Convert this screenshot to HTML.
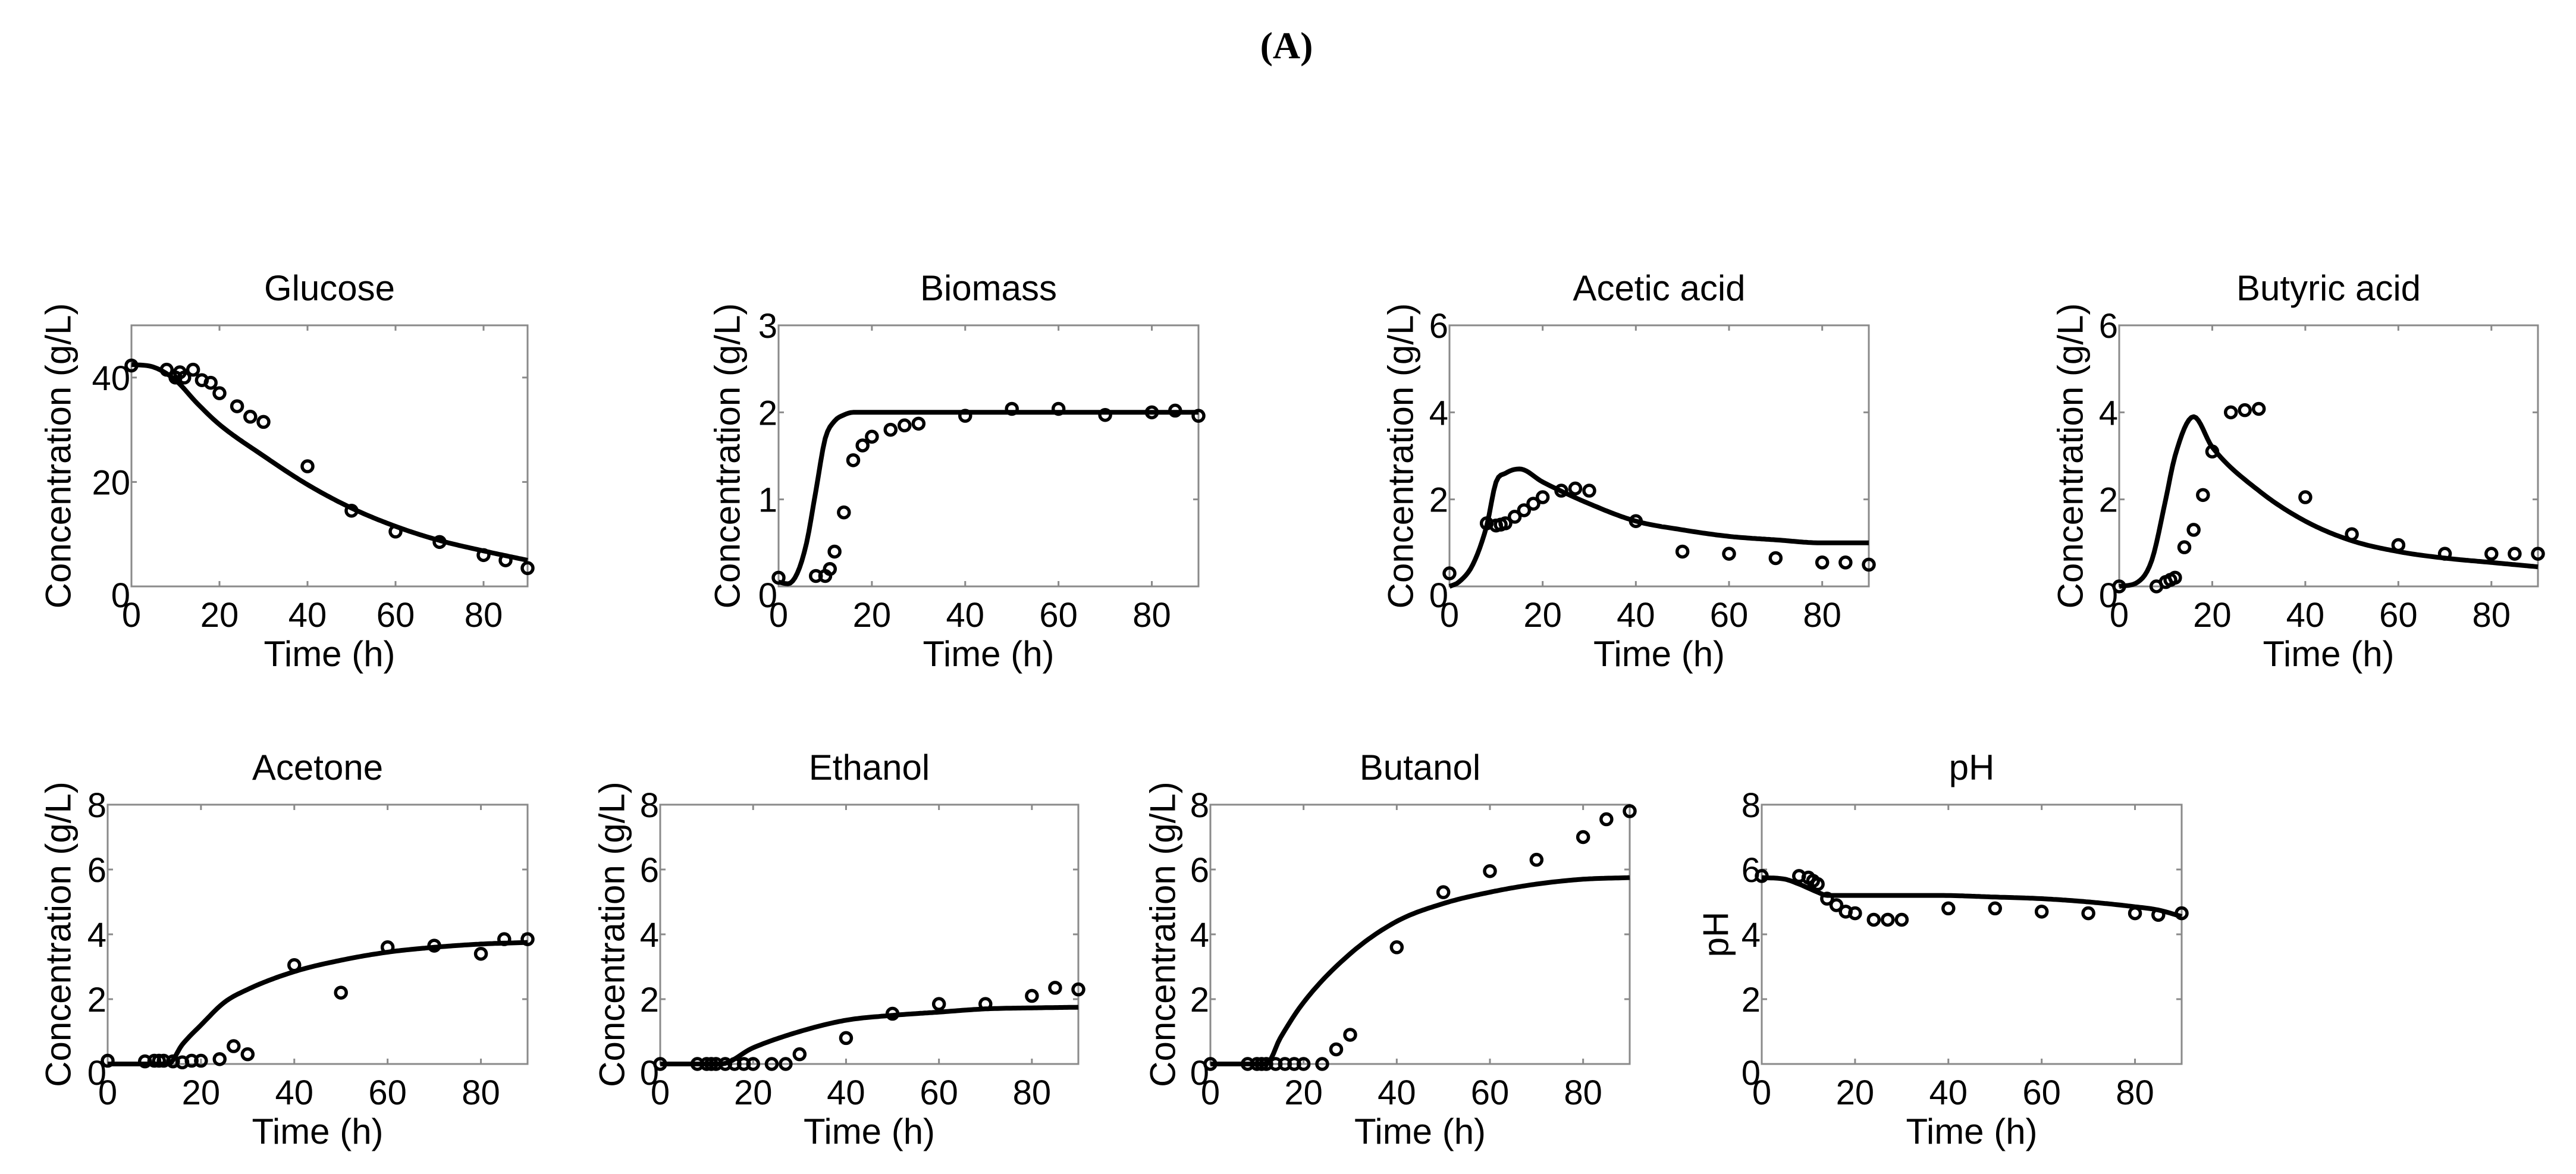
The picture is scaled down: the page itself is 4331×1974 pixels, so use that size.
<!DOCTYPE html>
<html><head><meta charset="utf-8">
<style>
html,body{margin:0;padding:0;background:#fff;}
svg{display:block;}
text{font-family:"Liberation Sans",sans-serif;fill:#000;}
</style></head>
<body>
<svg id="fig" width="4331" height="1974" viewBox="0 0 4331 1974" xmlns="http://www.w3.org/2000/svg">
<rect width="4331" height="1974" fill="#fff"/>
<text x="2163" y="98" text-anchor="middle" style="font-family:'Liberation Serif',serif;font-weight:bold;font-size:64px">(A)</text>
</svg>
<script>
const timesPts = [0,8,10,11,12,14,16,18,20,24,27,30,40,50,60,70,80,85,90];
const xTicks = [0,20,40,60,80];
const glucosePts = [42.3,41.5,40,41,40,41.5,39.5,39,37,34.5,32.5,31.5,23,14.5,10.5,8.5,6,5,3.5];
const glucoseCurveT = [0,5,10,15,20,30,40,50,60,70,80,90];
const glucoseCurveV = [42.5,42,39.5,35,31,25,19.5,15,11.5,8.8,6.8,5];
const biomassPts = [0.1,0.12,0.12,0.2,0.4,0.85,1.45,1.62,1.72,1.8,1.85,1.87,1.96,2.04,2.04,1.97,2.0,2.02,1.96];
const biomassCurveT = [0,2,4,6,8,10,12,14,16,90];
const biomassCurveV = [0.05,0.03,0.15,0.5,1.1,1.7,1.9,1.97,2,2];
const aceticPts = [0.3,1.45,1.4,1.42,1.45,1.6,1.75,1.9,2.05,2.2,2.25,2.2,1.5,0.8,0.75,0.65,0.55,0.55,0.5];
const aceticCurveT = [0,2,5,8,10,12,15,20,30,40,50,60,70,80,90];
const aceticCurveV = [0,0.1,0.5,1.4,2.4,2.6,2.7,2.4,1.9,1.5,1.3,1.15,1.07,1.0,1.0];
const butyricPts = [0,0,0.1,0.15,0.2,0.9,1.3,2.1,3.1,4.0,4.05,4.08,2.05,1.2,0.95,0.75,0.75,0.75,0.75];
const butyricCurveT = [0,4,7,10,12,16,20,30,40,50,60,70,80,90];
const butyricCurveV = [0,0.1,0.6,2.0,3.0,3.9,3.2,2.2,1.5,1.05,0.8,0.65,0.55,0.45];
const acetonePts = [0.1,0.08,0.1,0.1,0.1,0.08,0.05,0.1,0.1,0.15,0.55,0.3,3.05,2.2,3.6,3.65,3.4,3.85,3.85];
const acetoneCurveT = [0,13,16,20,25,30,40,50,60,70,80,90];
const acetoneCurveV = [0,0,0.6,1.2,1.9,2.3,2.85,3.2,3.45,3.6,3.7,3.75];
const ethanolPts = [0,0,0,0,0,0,0,0,0,0,0,0.3,0.8,1.55,1.85,1.85,2.1,2.35,2.3];
const ethanolCurveT = [0,13,20,30,40,50,60,70,80,90];
const ethanolCurveV = [0,0,0.5,1.0,1.35,1.5,1.6,1.7,1.73,1.75];
const butanolPts = [0,0,0,0,0,0,0,0,0,0,0.45,0.9,3.6,5.3,5.95,6.3,7.0,7.55,7.8];
const butanolCurveT = [0,12,15,20,30,40,50,60,70,80,90];
const butanolCurveV = [0,0,0.8,1.9,3.4,4.4,4.95,5.3,5.55,5.7,5.75];
const phPts = [5.8,5.8,5.75,5.65,5.55,5.1,4.9,4.7,4.65,4.45,4.45,4.45,4.8,4.8,4.7,4.65,4.65,4.6,4.65];
const phCurveT = [0,5,8,12,14,38,50,60,70,80,85,90];
const phCurveV = [5.75,5.7,5.55,5.3,5.2,5.2,5.15,5.1,5.0,4.85,4.75,4.55];

const panels = [
 {id:'glucose',title:'Glucose',l:221,r:887,t:547,b:986,ymax:50,yt:[0,20,40],ylab:'Concentration (g/L)',ylx:98,pts:glucosePts,ct:glucoseCurveT,cv:glucoseCurveV},
 {id:'biomass',title:'Biomass',l:1309,r:2015,t:547,b:986,ymax:3,yt:[0,1,2,3],ylab:'Concentration (g/L)',ylx:1223,pts:biomassPts,ct:biomassCurveT,cv:biomassCurveV},
 {id:'acetic-acid',title:'Acetic acid',l:2437,r:3142,t:547,b:986,ymax:6,yt:[0,2,4,6],ylab:'Concentration (g/L)',ylx:2355,pts:aceticPts,ct:aceticCurveT,cv:aceticCurveV},
 {id:'butyric-acid',title:'Butyric acid',l:3563,r:4267,t:547,b:986,ymax:6,yt:[0,2,4,6],ylab:'Concentration (g/L)',ylx:3481,pts:butyricPts,ct:butyricCurveT,cv:butyricCurveV},
 {id:'acetone',title:'Acetone',l:181,r:887,t:1353,b:1789,ymax:8,yt:[0,2,4,6,8],ylab:'Concentration (g/L)',ylx:98,pts:acetonePts,ct:acetoneCurveT,cv:acetoneCurveV},
 {id:'ethanol',title:'Ethanol',l:1110,r:1813,t:1353,b:1789,ymax:8,yt:[0,2,4,6,8],ylab:'Concentration (g/L)',ylx:1029,pts:ethanolPts,ct:ethanolCurveT,cv:ethanolCurveV},
 {id:'butanol',title:'Butanol',l:2035,r:2740,t:1353,b:1789,ymax:8,yt:[0,2,4,6,8],ylab:'Concentration (g/L)',ylx:1955,pts:butanolPts,ct:butanolCurveT,cv:butanolCurveV},
 {id:'ph',title:'pH',l:2962,r:3668,t:1353,b:1789,ymax:8,yt:[0,2,4,6,8],ylab:'pH',ylx:2885,pts:phPts,ct:phCurveT,cv:phCurveV}
];
const NS='http://www.w3.org/2000/svg';
const svg=document.getElementById('fig');
function mk(tag,attrs,parent,txt){const e=document.createElementNS(NS,tag);for(const k in attrs)e.setAttribute(k,attrs[k]);if(txt!==undefined)e.textContent=txt;parent.appendChild(e);return e;}
// monotone cubic (Fritsch-Carlson) interpolation, sampled
function monoPath(xs,ys,X,Y){
 const n=xs.length,d=[],m=new Array(n);
 for(let i=0;i<n-1;i++)d.push((ys[i+1]-ys[i])/(xs[i+1]-xs[i]));
 m[0]=d[0];m[n-1]=d[n-2];
 for(let i=1;i<n-1;i++){m[i]=(d[i-1]*d[i]<=0)?0:(d[i-1]+d[i])/2;}
 for(let i=0;i<n-1;i++){if(d[i]===0){m[i]=0;m[i+1]=0;continue;}const a=m[i]/d[i],b=m[i+1]/d[i],s=a*a+b*b;if(s>9){const t=3/Math.sqrt(s);m[i]=t*a*d[i];m[i+1]=t*b*d[i];}}
 let path='M'+X(xs[0]).toFixed(1)+','+Y(ys[0]).toFixed(1);
 for(let i=0;i<n-1;i++){const h=xs[i+1]-xs[i];const steps=Math.max(4,Math.ceil(h*2));for(let k=1;k<=steps;k++){const t=k/steps,t2=t*t,t3=t2*t;const v=(2*t3-3*t2+1)*ys[i]+(t3-2*t2+t)*h*m[i]+(-2*t3+3*t2)*ys[i+1]+(t3-t2)*h*m[i+1];path+=' L'+X(xs[i]+t*h).toFixed(1)+','+Y(v).toFixed(1);}}
 return path;
}
panels.forEach(p=>{
 const g=mk('g',{},svg);
 
 
 const X=v=>p.l+(v/90)*(p.r-p.l);
 const Y=v=>p.b-(v/p.ymax)*(p.b-p.t);
 const title=mk('text',{x:(p.l+p.r)/2,y:p.t-42,'text-anchor':'middle','font-size':60},g,p.title);
 
 
 const box=mk('rect',{x:p.l,y:p.t,width:p.r-p.l,height:p.b-p.t,fill:'none',stroke:'#8a8a8a','stroke-width':3},g);
 
 
 xTicks.forEach(v=>{
  const x=X(v);
  mk('line',{x1:x,y1:p.b,x2:x,y2:p.b-9,stroke:'#8a8a8a','stroke-width':3},g);
  mk('line',{x1:x,y1:p.t,x2:x,y2:p.t+9,stroke:'#8a8a8a','stroke-width':3},g);
  const tl=mk('text',{x:x,y:p.b+68,'text-anchor':'middle','font-size':58},g,String(v));
  
  
 });
 p.yt.forEach(v=>{
  const y=Y(v);
  mk('line',{x1:p.l,y1:y,x2:p.l+9,y2:y,stroke:'#8a8a8a','stroke-width':3},g);
  mk('line',{x1:p.r,y1:y,x2:p.r-9,y2:y,stroke:'#8a8a8a','stroke-width':3},g);
  const tl=mk('text',{x:p.l-2,y:y+21+(v===0?14:0),'text-anchor':'end','font-size':58},g,String(v));
  
  
 });
 const xl=mk('text',{x:(p.l+p.r)/2,y:p.b+134,'text-anchor':'middle','font-size':60},g,'Time (h)');
 
 
 const cy=(p.t+p.b)/2;
 const yl=mk('text',{x:p.ylx,y:cy,'text-anchor':'middle','dominant-baseline':'central','font-size':60,transform:'rotate(-90 '+p.ylx+' '+cy+')'},g,p.ylab);
 
 
 const line=mk('path',{d:monoPath(p.ct,p.cv,X,Y),fill:'none',stroke:'#000','stroke-width':8,'stroke-linejoin':'round'},g);
 
 
 p.pts.forEach((v,i)=>{
  const c=mk('circle',{cx:X(timesPts[i]),cy:Y(v),r:9,fill:'none',stroke:'#000','stroke-width':5.5},g);
  
  
 });
});
</script>
</body></html>
